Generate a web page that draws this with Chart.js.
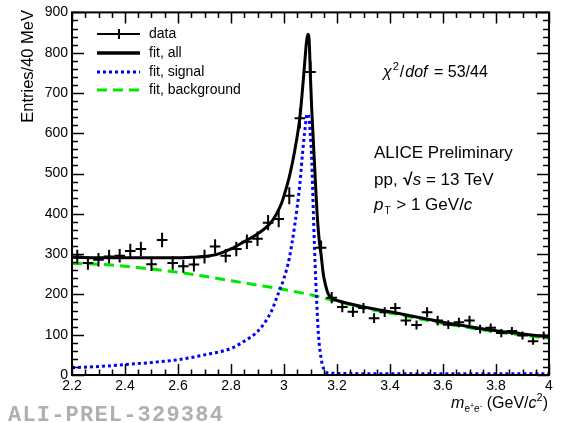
<!DOCTYPE html>
<html>
<head>
<meta charset="utf-8">
<script src="https://cdn.jsdelivr.net/npm/chart.js@4"></script>
<style>
  html, body { margin: 0; padding: 0; background: #fff; }
</style>
</head>
<body>
<canvas id="massChart" width="563" height="423"></canvas>
<script>
// invariant mass bins, 40 MeV wide
const binCenters = [2.22, 2.26, 2.30, 2.34, 2.38, 2.42, 2.46, 2.50, 2.54, 2.58, 2.62, 2.66, 2.70, 2.74, 2.78,
    2.82, 2.86, 2.90, 2.94, 2.98, 3.02, 3.06, 3.10, 3.14, 3.18, 3.22, 3.26, 3.30, 3.34, 3.38,
    3.42, 3.46, 3.50, 3.54, 3.58, 3.62, 3.66, 3.70, 3.74, 3.78, 3.82, 3.86, 3.90, 3.94, 3.98];
const counts = [294, 278, 286, 294, 296, 308, 313, 275, 335, 278, 270, 274, 294, 319, 296,
    313, 331, 338, 378, 387, 445, 637, 752, 316, 192, 169, 157, 166, 141, 156,
    166, 135, 124, 156, 135, 125, 131, 135, 114, 117, 104, 109, 98, 84, 98];
const countErrors = [17, 17, 17, 17, 17, 18, 18, 17, 18, 17, 16, 17, 17, 18, 17,
    18, 18, 18, 19, 20, 21, 25, 27, 18, 14, 13, 13, 13, 12, 12,
    13, 12, 11, 12, 12, 11, 11, 12, 11, 11, 10, 10, 10, 9, 10];
const binHalfWidth = 0.02;

// fit curves
const fitAllX = [2.2, 2.3, 2.4, 2.5, 2.6, 2.65, 2.7, 2.75, 2.8, 2.85, 2.9, 2.95, 2.97, 2.99, 3.0, 3.02, 3.04,
    3.06, 3.07, 3.08, 3.085, 3.09, 3.095, 3.1, 3.105, 3.11, 3.115, 3.12, 3.125, 3.13, 3.136, 3.14,
    3.148, 3.155, 3.163, 3.17, 3.18, 3.2, 3.3, 3.4, 3.5, 3.6, 3.7, 3.8, 3.9, 4.0];
const fitAllY = [292, 291, 291, 291, 291, 292, 294, 300, 313, 331, 350, 378, 398, 425, 445, 492, 555,
    640, 710, 790, 828, 846, 830, 735, 655, 590, 525, 460, 400, 355, 316, 298,
    252, 228, 208, 198, 190, 185, 169, 157, 144, 131, 120, 110, 102, 94];

const signalX = [2.2, 2.3, 2.4, 2.5, 2.6, 2.7, 2.8, 2.85, 2.9, 2.95, 2.98, 3.0, 3.02, 3.04, 3.06, 3.07,
    3.08, 3.088, 3.095, 3.1, 3.105, 3.11, 3.115, 3.12, 3.125, 3.13, 3.137, 3.145, 3.155, 3.17, 3.2, 3.5, 4.0];
const signalY = [18, 21, 26, 31, 38, 50, 66, 84, 108, 155, 205, 240, 290, 370, 475, 550,
    615, 648, 635, 590, 530, 420, 320, 230, 160, 100, 55, 25, 10, 5, 4, 3, 3];

const backgroundX = [2.2, 2.3, 2.4, 2.5, 2.6, 2.7, 2.8, 2.9, 3.0, 3.1, 3.2, 3.3, 3.4, 3.5, 3.6, 3.7, 3.8, 3.9, 4.0];
const backgroundY = [277, 275, 270, 263, 255, 245, 234, 223, 212, 199, 183, 166, 154, 141, 128, 117, 107, 99, 91];

const legendLabels = ["data", "fit, all", "fit, signal", "fit, background"];

const SANS = '"Liberation Sans", Arial, Helvetica, sans-serif';
const BLUE = "#0000ff";
const GREEN = "#00e800";

function points(xs, ys) {
    return xs.map((x, i) => ({ x: x, y: ys[i] }));
}

function drawRuns(ctx, x, y, parts) {
    parts.forEach(p => {
        ctx.font = p.font;
        ctx.fillText(p.t, x, y + (p.dy || 0));
        x += ctx.measureText(p.t).width + (p.gap || 0);
    });
    return x;
}

function runsWidth(ctx, parts) {
    let w = 0;
    parts.forEach(p => {
        ctx.font = p.font;
        w += ctx.measureText(p.t).width + (p.gap || 0);
    });
    return w;
}

// error bars for the data histogram
const errorBars = {
    id: "errorBars",
    afterDatasetsDraw(chart) {
        const ctx = chart.ctx;
        const xs = chart.scales.x, ys = chart.scales.y;
        ctx.save();
        ctx.strokeStyle = "#000";
        ctx.lineWidth = 2;
        binCenters.forEach((c, i) => {
            const px = xs.getPixelForValue(c);
            const py = ys.getPixelForValue(counts[i]);
            ctx.beginPath();
            ctx.moveTo(xs.getPixelForValue(c - binHalfWidth), py);
            ctx.lineTo(xs.getPixelForValue(c + binHalfWidth), py);
            ctx.moveTo(px, ys.getPixelForValue(counts[i] - countErrors[i]));
            ctx.lineTo(px, ys.getPixelForValue(counts[i] + countErrors[i]));
            ctx.stroke();
        });
        ctx.restore();
    }
};

// frame, ticks on all four sides, legend and labels
const decorations = {
    id: "decorations",
    beforeDraw(chart) {
        const ctx = chart.ctx;
        ctx.save();
        ctx.fillStyle = "#fff";
        ctx.fillRect(0, 0, chart.width, chart.height);
        ctx.restore();
    },
    afterDraw(chart) {
        const ctx = chart.ctx;
        const a = chart.chartArea;
        const xs = chart.scales.x, ys = chart.scales.y;
        ctx.save();
        ctx.strokeStyle = "#000";
        ctx.lineWidth = 1.5;

        // x ticks every 0.05, major every 0.2
        ctx.beginPath();
        for (let i = 0; i <= 36; i++) {
            const px = Math.round(xs.getPixelForValue(2.2 + i * 0.05)) + 0.5;
            const len = i % 4 === 0 ? 11 : 5.5;
            ctx.moveTo(px, a.bottom); ctx.lineTo(px, a.bottom - len);
            ctx.moveTo(px, a.top); ctx.lineTo(px, a.top + len);
        }
        // y ticks every 20, major every 100
        for (let i = 0; i <= 45; i++) {
            const py = Math.round(ys.getPixelForValue(i * 20)) + 0.5;
            const len = i % 5 === 0 ? 12 : 6;
            ctx.moveTo(a.left, py); ctx.lineTo(a.left + len, py);
            ctx.moveTo(a.right, py); ctx.lineTo(a.right - len, py);
        }
        ctx.stroke();
        ctx.lineWidth = 2;
        ctx.strokeRect(a.left, a.top, a.right - a.left, a.bottom - a.top);

        // legend
        const lx0 = 97, lx1 = 140, tx = 149;
        const rows = [34, 53, 72, 90];
        ctx.font = "14px " + SANS;
        ctx.fillStyle = "#000";
        ctx.textBaseline = "middle";
        legendLabels.forEach((t, i) => ctx.fillText(t, tx, rows[i]));

        ctx.lineWidth = 2;
        ctx.beginPath();
        ctx.moveTo(lx0, rows[0]); ctx.lineTo(lx1, rows[0]);
        ctx.moveTo(119, rows[0] - 5); ctx.lineTo(119, rows[0] + 5);
        ctx.stroke();

        ctx.lineWidth = 3.5;
        ctx.beginPath();
        ctx.moveTo(lx0, rows[1]); ctx.lineTo(lx1, rows[1]);
        ctx.stroke();

        ctx.lineWidth = 3;
        ctx.strokeStyle = BLUE;
        ctx.setLineDash([3, 3]);
        ctx.beginPath();
        ctx.moveTo(lx0, rows[2]); ctx.lineTo(lx1, rows[2]);
        ctx.stroke();

        ctx.strokeStyle = GREEN;
        ctx.setLineDash([10, 6]);
        ctx.beginPath();
        ctx.moveTo(lx0, rows[3]); ctx.lineTo(lx1, rows[3]);
        ctx.stroke();
        ctx.setLineDash([]);

        // fit quality and collaboration text
        ctx.textBaseline = "alphabetic";
        drawRuns(ctx, 383, 77, [
            { t: "\u03c7", font: "italic 16px " + SANS, gap: 1 },
            { t: "2", font: "11px " + SANS, dy: -7, gap: 1 },
            { t: "/", font: "16px " + SANS, gap: 1 },
            { t: "dof", font: "italic 16px " + SANS, gap: 2 },
            { t: " = 53/44", font: "16px " + SANS }
        ]);

        ctx.font = "17px " + SANS;
        ctx.fillText("ALICE Preliminary", 374, 158);
        drawRuns(ctx, 374, 185, [
            { t: "pp, ", font: "17px " + SANS, gap: 1 },
            { t: "\u221a", font: "bold 17px " + SANS },
            { t: "s", font: "italic 17px " + SANS },
            { t: " = 13 TeV", font: "17px " + SANS }
        ]);
        drawRuns(ctx, 374, 210, [
            { t: "p", font: "italic 17px " + SANS, gap: 1 },
            { t: "T", font: "10px " + SANS, dy: 4, gap: 1 },
            { t: " > 1 GeV/", font: "17px " + SANS },
            { t: "c", font: "italic 17px " + SANS }
        ]);

        // axis titles
        const xTitle = [
            { t: "m", font: "italic 16px " + SANS },
            { t: "e", font: "10px " + SANS, dy: 4 },
            { t: "+", font: "7px " + SANS, dy: 0 },
            { t: "e", font: "10px " + SANS, dy: 4 },
            { t: "-", font: "8px " + SANS, dy: 0 },
            { t: " (GeV/", font: "16px " + SANS },
            { t: "c", font: "italic 16px " + SANS },
            { t: "2", font: "11px " + SANS, dy: -7 },
            { t: ")", font: "16px " + SANS }
        ];
        drawRuns(ctx, 548 - runsWidth(ctx, xTitle), 408, xTitle);

        ctx.save();
        ctx.translate(33, 10);
        ctx.rotate(-Math.PI / 2);
        ctx.textAlign = "right";
        ctx.font = "16.5px " + SANS;
        ctx.fillText("Entries/40 MeV", 0, 0);
        ctx.restore();

        // preliminary figure id
        ctx.font = "bold 22px \"Liberation Mono\", \"Courier New\", monospace";
        ctx.fillStyle = "#b0b0b0";
        if ("letterSpacing" in ctx) ctx.letterSpacing = "1.2px";
        ctx.fillText("ALI-PREL-329384", 8, 421);
        ctx.restore();
    }
};

new Chart(document.getElementById("massChart"), {
    type: "line",
    data: {
        datasets: [
            {
                type: "scatter",
                label: "data",
                data: points(binCenters, counts),
                pointRadius: 1.5,
                pointBackgroundColor: "#000",
                pointBorderWidth: 0
            },
            {
                label: "fit, all",
                data: points(fitAllX, fitAllY),
                borderColor: "#000",
                borderWidth: 3,
                pointRadius: 0,
                cubicInterpolationMode: "monotone"
            },
            {
                label: "fit, signal",
                data: points(signalX, signalY),
                borderColor: BLUE,
                borderWidth: 3,
                borderDash: [3, 3],
                pointRadius: 0,
                cubicInterpolationMode: "monotone"
            },
            {
                label: "fit, background",
                data: points(backgroundX, backgroundY),
                borderColor: GREEN,
                borderWidth: 3,
                borderDash: [10, 6],
                pointRadius: 0,
                cubicInterpolationMode: "monotone"
            }
        ]
    },
    options: {
        responsive: false,
        animation: false,
        devicePixelRatio: 1,
        layout: { padding: { top: 8, right: 14, left: 0, bottom: 0 } },
        plugins: {
            legend: { display: false },
            tooltip: { enabled: false }
        },
        scales: {
            x: {
                type: "linear",
                min: 2.2,
                max: 4.0,
                grid: { display: false, drawTicks: false },
                border: { display: false },
                ticks: {
                    stepSize: 0.2,
                    autoSkip: false,
                    maxRotation: 0,
                    padding: 3,
                    color: "#000",
                    font: { family: SANS, size: 14 },
                    callback: v => String(Number(v.toFixed(1)))
                },
                afterFit: s => { s.height = 48; }
            },
            y: {
                min: 0,
                max: 900,
                grid: { display: false, drawTicks: false },
                border: { display: false },
                ticks: {
                    stepSize: 100,
                    padding: 4,
                    color: "#000",
                    font: { family: SANS, size: 14 }
                },
                afterFit: s => { s.width = 72; }
            }
        }
    },
    plugins: [errorBars, decorations]
});
</script>
</body>
</html>
